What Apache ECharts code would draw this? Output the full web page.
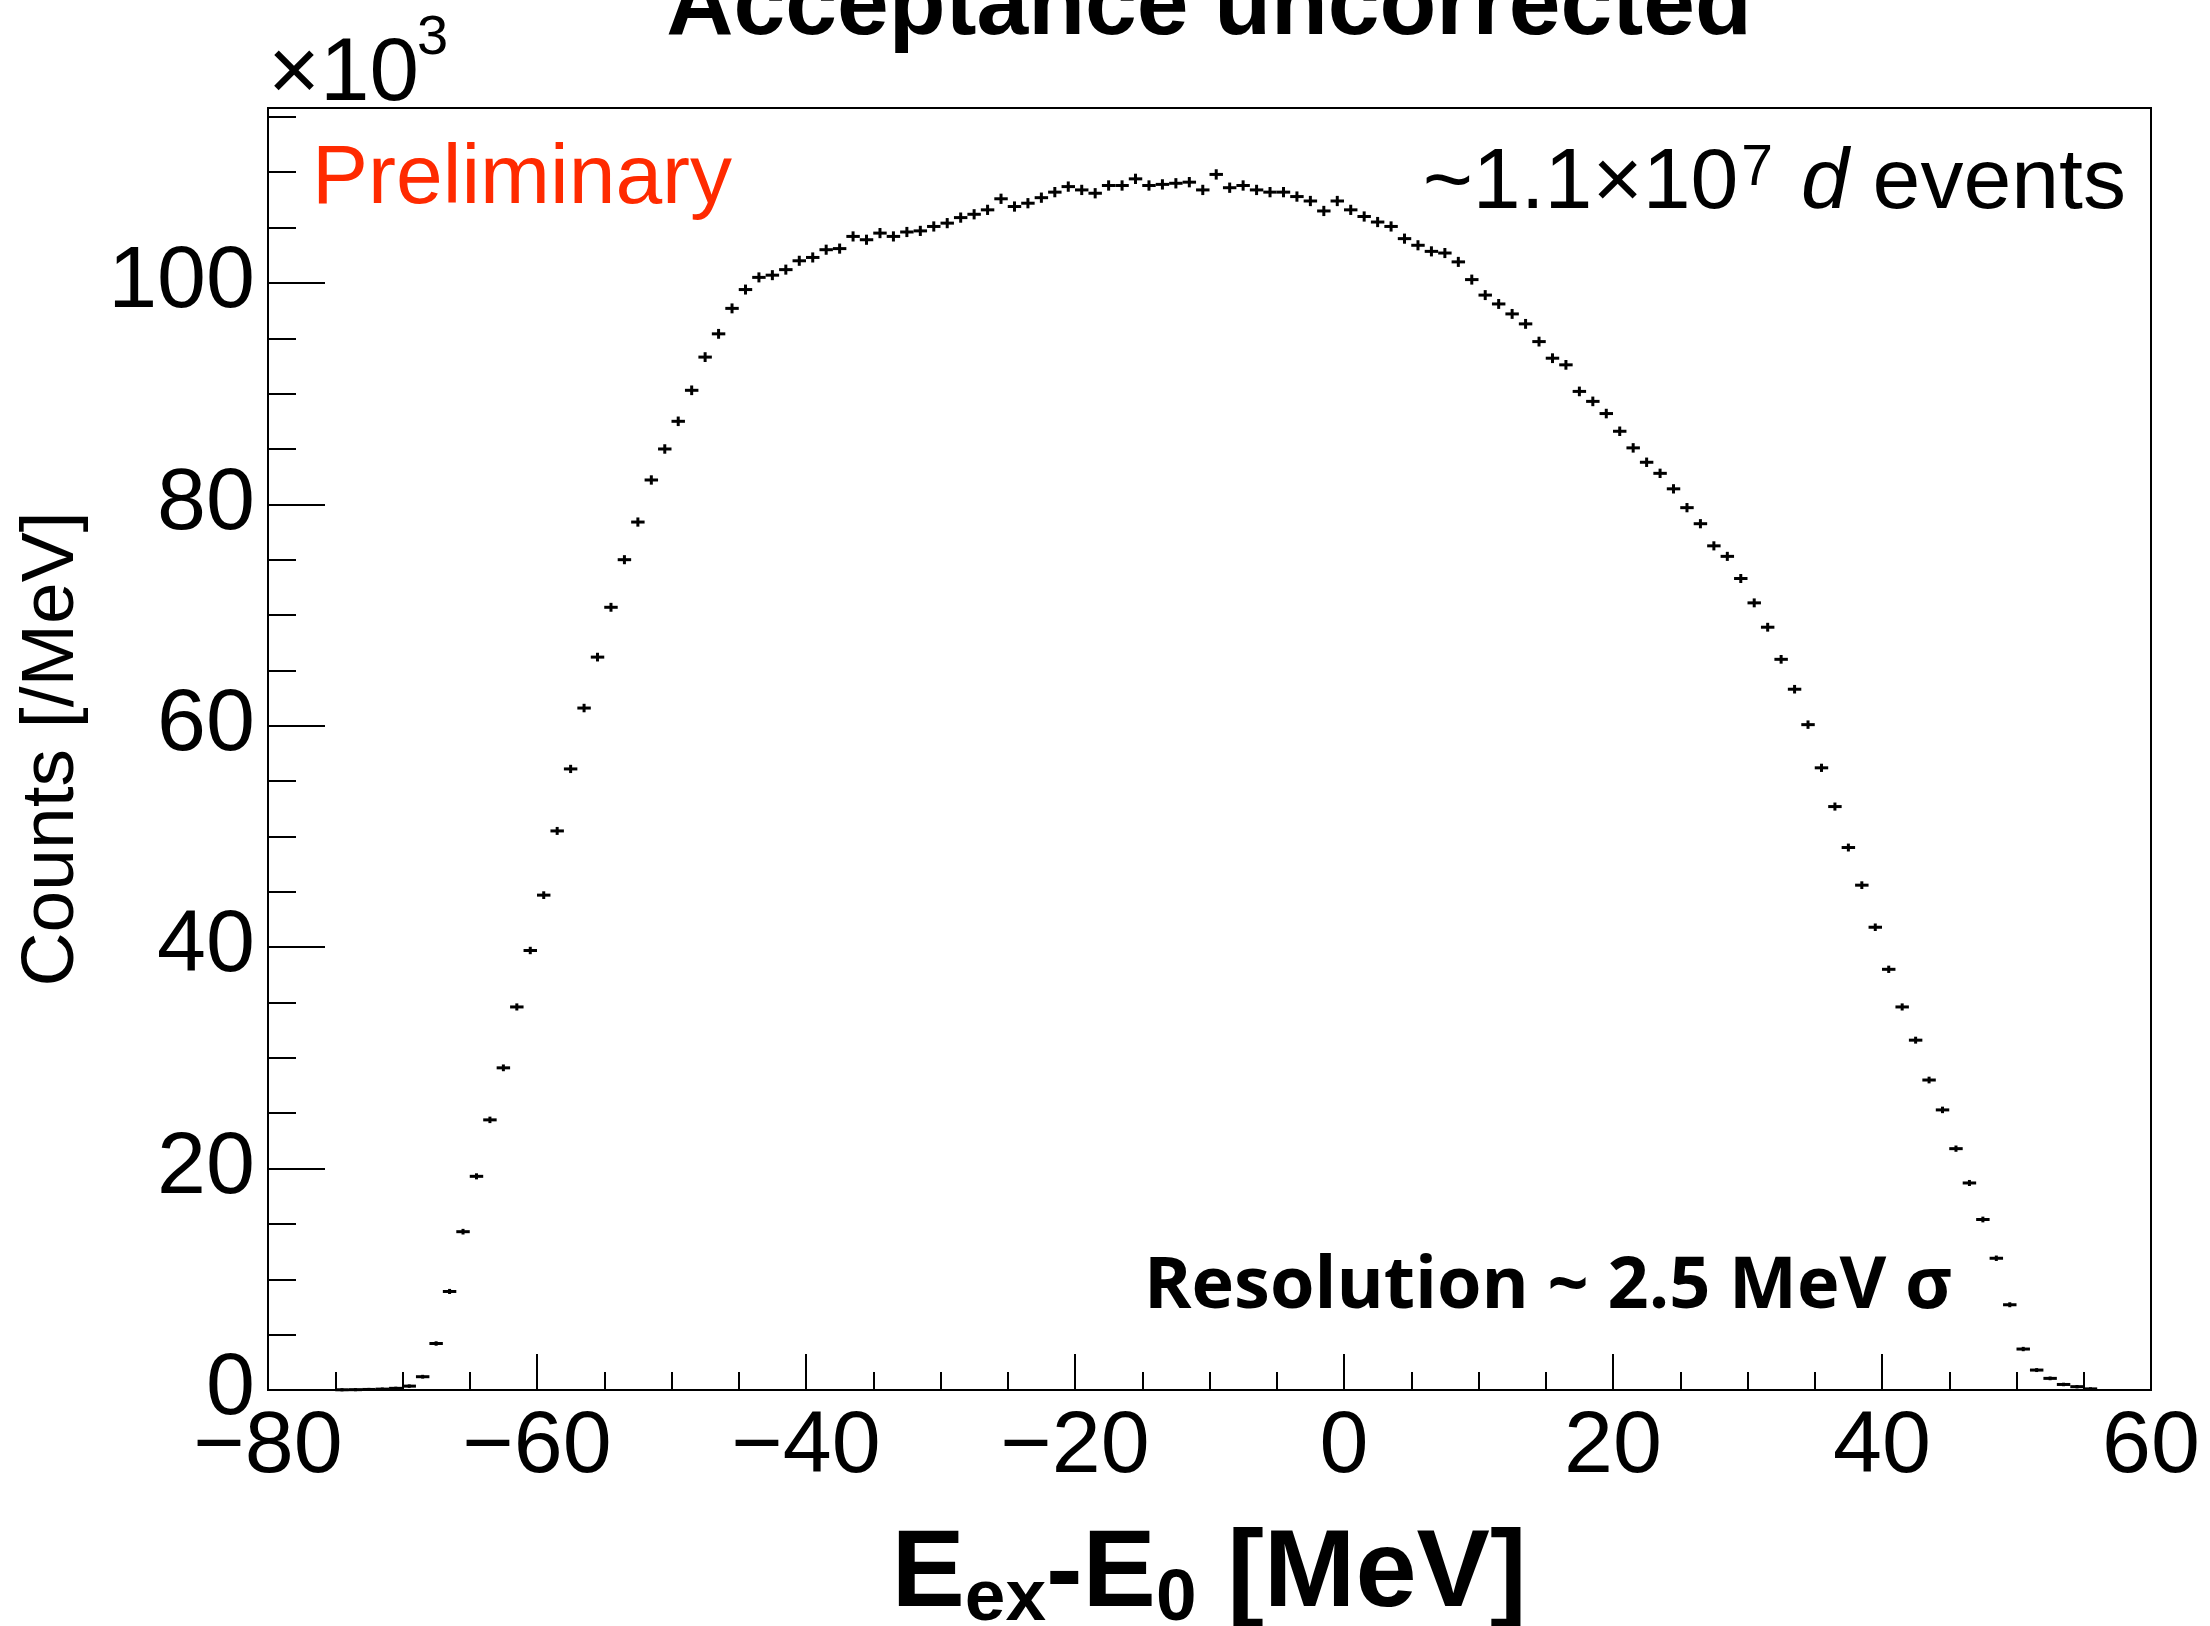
<!DOCTYPE html>
<html>
<head>
  <meta charset="utf-8">
  <title>Acceptance uncorrected</title>
  <script src="https://cdn.jsdelivr.net/npm/echarts@6/dist/echarts.min.js"></script>
  <style>
    html, body { margin: 0; padding: 0; background: #fff; }
    #main { width: 2210px; height: 1626px; }
  </style>
</head>
<body>
<div id="main"></div>
<script type="text/javascript">
  // histogram: 1 MeV bins, first bin starts at -75 MeV, counts in units of 10^3
  const binStart = -75
  const binWidth = 1

  // -74.5 .. -45.5
  const countsRise = [
    0.02, 0.03, 0.05, 0.08, 0.15, 0.35, 1.2, 4.2, 8.9, 14.3,
    19.3, 24.4, 29.1, 34.6, 39.7, 44.7, 50.5, 56.1, 61.6, 66.2,
    70.7, 75.0, 78.4, 82.2, 85.0, 87.5, 90.3, 93.3, 95.4, 97.7
  ]
  // -44.5 .. 9.5
  const countsTop = [
    99.4, 100.5, 100.7, 101.2, 102.0, 102.3, 103.0, 103.1, 104.2, 103.9,
    104.5, 104.2, 104.6, 104.7, 105.1, 105.4, 105.9, 106.2, 106.6, 107.6,
    106.9, 107.2, 107.7, 108.2, 108.7, 108.4, 108.1, 108.8, 108.8, 109.4,
    108.8, 108.9, 109.0, 109.1, 108.4, 109.8, 108.6, 108.8, 108.4, 108.2,
    108.2, 107.8, 107.4, 106.5, 107.4, 106.6, 106.0, 105.5, 105.1, 104.0,
    103.4, 102.85, 102.7, 101.9, 100.3
  ]
  // 10.5 .. 55.5
  const countsFall = [
    98.9, 98.1, 97.2, 96.3, 94.7, 93.2, 92.6, 90.2, 89.3, 88.2,
    86.6, 85.1, 83.8, 82.8, 81.4, 79.7, 78.25, 76.25, 75.3, 73.3,
    71.1, 68.9, 66.0, 63.3, 60.1, 56.2, 52.7, 49.0, 45.6, 41.8,
    38.0, 34.6, 31.6, 28.0, 25.3, 21.8, 18.7, 15.4, 11.9, 7.7,
    3.7, 1.8, 1.05, 0.5, 0.3, 0.1
  ]

  const xRange = [-80, 60]
  const yRange = [0, 115.8]
  const xMajor = 20
  const yMajor = 20
  const yMinor = 5

  const counts = countsRise.concat(countsTop, countsFall)
  // [center, value, poisson error] ; counts are per bin in 10^3
  const points = counts.map((v, i) => [binStart + binWidth * (i + 0.5), v, Math.sqrt(v * 1000) / 1000])

  const font = 'Liberation Sans'
  const minus = v => String(v).replace('-', '\u2212')

  let myChart = echarts.init(document.getElementById('main'), null, { renderer: 'canvas' })

  let option = {
    backgroundColor: '#fff',
    animation: false,
    grid: {
      left: 268, right: 59, top: 108, bottom: 236,
      show: true, borderColor: '#000', borderWidth: 2, backgroundColor: 'transparent'
    },
    xAxis: {
      type: 'value',
      min: xRange[0], max: xRange[1], interval: xMajor,
      axisLine: { show: true, onZero: false, lineStyle: { color: '#000', width: 2 } },
      axisTick: { show: true, inside: true, length: 36, lineStyle: { color: '#000', width: 2 } },
      minorTick: { show: true, splitNumber: 4, length: 18, lineStyle: { color: '#000', width: 2 } },
      splitLine: { show: false },
      axisLabel: { fontFamily: font, fontSize: 88, color: '#000', margin: 14, formatter: minus }
    },
    yAxis: [
      {
        type: 'value',
        position: 'left',
        min: yRange[0], max: yRange[1], interval: yMajor,
        axisLine: { show: true, onZero: false, lineStyle: { color: '#000', width: 2 } },
        axisTick: { show: true, inside: true, length: 57, lineStyle: { color: '#000', width: 2 } },
        splitLine: { show: false },
        axisLabel: { fontFamily: font, fontSize: 88, color: '#000', margin: 13, showMaxLabel: false }
      },
      {
        type: 'value',
        position: 'left',
        min: yRange[0], max: yRange[1], interval: yMinor,
        axisLine: { show: false, onZero: false },
        axisTick: { show: true, inside: true, length: 28, lineStyle: { color: '#000', width: 2 } },
        splitLine: { show: false },
        axisLabel: { show: false }
      }
    ],
    series: [
      {
        type: 'custom',
        xAxisIndex: 0,
        yAxisIndex: 0,
        data: points,
        renderItem: (params, api) => {
          const x = api.value(0), v = api.value(1), e = api.value(2)
          const a = api.coord([x - binWidth / 2, v])
          const b = api.coord([x + binWidth / 2, v])
          const lo = api.coord([x, v - e])
          const hi = api.coord([x, v + e])
          const st = { stroke: '#000', lineWidth: 3 }
          return {
            type: 'group',
            children: [
              { type: 'line', shape: { x1: a[0], y1: a[1], x2: b[0], y2: b[1] }, style: st },
              { type: 'line', shape: { x1: lo[0], y1: lo[1] + 1.5, x2: hi[0], y2: hi[1] - 1.5 }, style: st }
            ]
          }
        }
      }
    ],
    graphic: [
      // title, mostly cut off by the top edge as in the original
      {
        type: 'text', x: 1209, y: 8,
        style: { text: 'Acceptance uncorrected', font: `bold 93px "${font}"`, fill: '#000', align: 'center', verticalAlign: 'middle' }
      },
      {
        type: 'text', x: 268, y: 75,
        style: { text: '\u00d710', font: `89px "${font}"`, fill: '#000', align: 'left', verticalAlign: 'middle' }
      },
      {
        type: 'text', x: 417, y: 39,
        style: { text: '3', font: `56px "${font}"`, fill: '#000', align: 'left', verticalAlign: 'middle' }
      },
      {
        type: 'text', x: 312, y: 180,
        style: { text: 'Preliminary', font: `84px "${font}"`, fill: '#ff2a00', align: 'left', verticalAlign: 'middle' }
      },
      {
        type: 'text', x: 2126, y: 184,
        style: {
          text: '{m|~1.1\u00d710}{s|7}{m| }{i|d}{m| events}',
          align: 'right', verticalAlign: 'middle',
          rich: {
            m: { fontFamily: font, fontSize: 86, lineHeight: 86, color: '#000' },
            i: { fontFamily: font, fontSize: 86, lineHeight: 86, fontStyle: 'italic', color: '#000' },
            s: { fontFamily: font, fontSize: 57, lineHeight: 57, verticalAlign: 'top', color: '#000', padding: [0, 4, 0, 3] }
          }
        }
      },
      {
        type: 'text', x: 1548, y: 1287,
        style: { text: 'Resolution ~ 2.5 MeV \u03c3', font: `bold 72px "Open Sans"`, fill: '#000', align: 'center', verticalAlign: 'middle' }
      },
      {
        type: 'text', x: 1209, y: 1576,
        style: {
          text: '{m|E}{s|ex}{m|-E}{s|0}{m| [MeV]}',
          align: 'center', verticalAlign: 'middle',
          rich: {
            m: { fontFamily: font, fontWeight: 'bold', fontSize: 110, lineHeight: 120, color: '#000' },
            s: { fontFamily: font, fontWeight: 'bold', fontSize: 73, lineHeight: 86, verticalAlign: 'bottom', color: '#000' }
          }
        }
      },
      {
        type: 'text', x: 52, y: 749, rotation: Math.PI / 2,
        style: { text: 'Counts [/MeV]', font: `75px "${font}"`, fill: '#000', align: 'center', verticalAlign: 'middle' }
      }
    ]
  }

  myChart.setOption(option)
</script>
</body>
</html>
